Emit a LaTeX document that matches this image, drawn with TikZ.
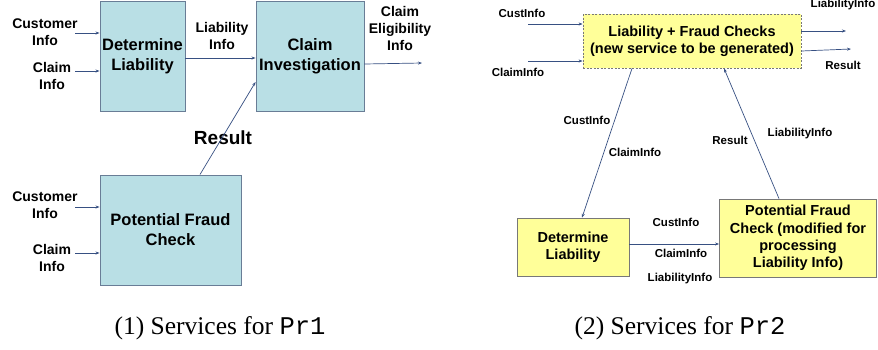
\documentclass[tikz,border=0pt]{standalone}
\usepackage{fontspec}
\setmainfont{Liberation Serif}
\setmonofont{Liberation Mono}
\newfontfamily\lsans{Liberation Sans}
\usetikzlibrary{arrows.meta}
\definecolor{boxblue}{RGB}{185,223,229}
\definecolor{boxblueline}{RGB}{105,125,150}
\definecolor{boxyellow}{RGB}{255,255,153}
\definecolor{yline}{RGB}{120,120,120}
\definecolor{arrcol}{RGB}{55,80,130}
\tikzset{
  bluebox/.style={draw=boxblueline, fill=boxblue, line width=0.9pt, inner sep=0pt, align=center,
    font=\lsans\bfseries\fontsize{16.5}{20}\selectfont},
  yellowbox/.style={draw=yline, fill=boxyellow, line width=0.8pt, inner sep=0pt, align=center,
    font=\lsans\bfseries\fontsize{14.5}{17.4}\selectfont},
  lbl/.style={inner sep=0pt, align=center, font=\lsans\bfseries\fontsize{14}{17}\selectfont},
  slbl/.style={inner sep=0pt, align=center, font=\lsans\bfseries\fontsize{11.5}{14}\selectfont},
  biglbl/.style={inner sep=0pt, font=\lsans\bfseries\fontsize{19}{22}\selectfont},
  captxt/.style={inner sep=0pt, font=\fontsize{25.5}{30}\selectfont},
  arr/.style={draw=arrcol, line width=0.7pt, -{Stealth[length=4pt,width=3pt]}},
}
\begin{document}
\begin{tikzpicture}[x=1pt,y=-1pt]
\useasboundingbox (0,0) rectangle (878,349);
% ---------- left panel ----------
\node[bluebox, minimum width=85pt, minimum height=110pt] (dl1) at (142.5,56) {Determine\\Liability};
\node[bluebox, minimum width=108pt, minimum height=110pt] (ci1) at (310,56) {Claim\\Investigation};
\node[bluebox, minimum width=141pt, minimum height=110pt] (pfc1) at (170.5,230) {Potential Fraud\\Check};

\node[lbl] (cust1) at (45,32) {Customer\\Info};
\node[lbl] (claim1) at (52,75.5) {Claim\\Info};
\node[lbl] (liab1) at (222,36) {Liability\\Info};
\node[lbl] (elig1) at (400,28) {Claim\\Eligibility\\Info};
\node[biglbl] (res1) at (223,138) {Result};
\node[lbl] (cust2) at (45,205.5) {Customer\\Info};
\node[lbl] (claim2) at (52,257.5) {Claim\\Info};

\coordinate (ci1in) at (75,33);
\coordinate (cl1in) at (75,71);
\coordinate (ci2in) at (75,207);
\coordinate (cl2in) at (75,253);
\coordinate (eligout) at (422,63);

\draw[arr] (ci1in) -- (ci1in -| dl1.west);
\draw[arr] (cl1in) -- (cl1in -| dl1.west);
\draw[arr] ([yshift=-2pt]dl1.east) -- ([yshift=-2pt]ci1.west);
\draw[arr] ([yshift=-8pt]ci1.east) -- (eligout);
\draw[arr] ([xshift=29.5pt]pfc1.north) -- ([yshift=-26pt]ci1.west);
\draw[arr] (ci2in) -- (ci2in -| pfc1.west);
\draw[arr] (cl2in) -- (cl2in -| pfc1.west);

\node[captxt] (cap1) at (220,328) {(1) Services for \texttt{Pr1}};

% ---------- right panel ----------
\node[yellowbox, dashed, dash pattern=on 2pt off 1.5pt, minimum width=218pt, minimum height=54pt] (lf) at (692,41)
  {Liability + Fraud Checks\\(new service to be generated)};
\node[yellowbox, minimum width=112pt, minimum height=58pt] (dl2) at (573,247) {Determine\\Liability};
\node[yellowbox, minimum width=157pt, minimum height=78pt] (pfc2) at (798,238)
  {Potential Fraud\\Check (modified for\\processing\\Liability Info)};

\node[slbl] (rc1) at (522,13) {CustInfo};
\node[slbl] (rc2) at (518,72) {ClaimInfo};
\node[slbl] (rl1) at (843,5) {LiabilityInfo};
\node[slbl] (rr1) at (843,65) {Result};
\node[slbl] (rc3) at (587,120) {CustInfo};
\node[slbl] (rc4) at (635,152) {ClaimInfo};
\node[slbl] (rr2) at (730,140) {Result};
\node[slbl] (rl2) at (800,134) {LiabilityInfo};
\node[slbl] (rc5) at (676,222) {CustInfo};
\node[slbl] (rc6) at (681,253) {ClaimInfo};
\node[slbl] (rl3) at (680,279) {LiabilityInfo};

\coordinate (rcin) at (528,24);
\coordinate (rclin) at (528,61);
\coordinate (rout1) at (846,31);
\coordinate (rout2) at (851,49);

\draw[arr] (rcin) -- (rcin -| lf.west);
\draw[arr] (rclin) -- (rclin -| lf.west);
\draw[arr] ([yshift=10pt]lf.east) -- (rout1);
\draw[arr] ([yshift=-10pt]lf.east) -- (rout2);
\draw[arr] ([xshift=-60pt]lf.south) -- ([xshift=9pt]dl2.north);
\draw[arr] ([xshift=-19pt]pfc2.north) -- ([xshift=32pt]lf.south);
\draw[arr] ([yshift=3pt]dl2.east) -- ([yshift=-6pt]pfc2.west);

\node[captxt] (cap2) at (680,328) {(2) Services for \texttt{Pr2}};
\end{tikzpicture}
\end{document}
